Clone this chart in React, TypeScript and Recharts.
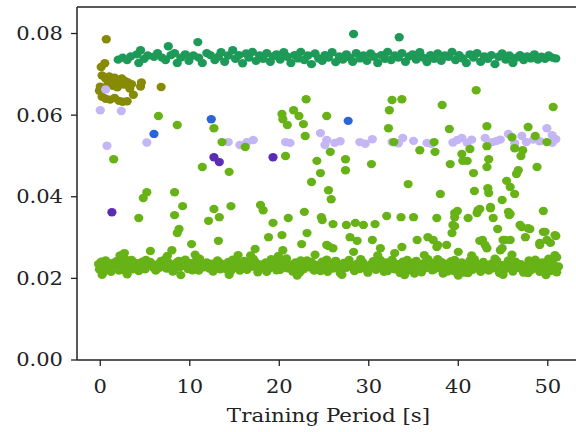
import React from "react";
import { ScatterChart, Scatter, XAxis, YAxis, ReferenceLine, Label } from "recharts";

type P = [number, number];

const xTicks = [0, 10, 20, 30, 40, 50];
const yTicks = [0, 0.02, 0.04, 0.06, 0.08];
const xLabel = "Training Period [s]";

const darkGreenPts: P[] = [
  [2.0,0.0736],[2.5,0.0741],[3.0,0.0735],[3.4,0.0744],[4.1,0.0749],[4.3,0.0728],[4.5,0.0759],[4.9,0.0738],[5.3,0.0746],[6.0,0.0743],[6.4,0.0752],
  [6.9,0.0741],[7.3,0.0735],[7.6,0.0769],[7.9,0.0747],[8.3,0.0752],[8.6,0.0728],[9.0,0.0741],[9.5,0.0749],[9.9,0.0733],[10.4,0.0746],
  [10.9,0.0779],[11.0,0.0741],[11.4,0.0728],[11.9,0.0752],[12.3,0.0747],[12.8,0.0735],[13.2,0.0743],[13.5,0.0754],[13.9,0.0731],[14.3,0.0746],
  [14.8,0.0759],[15.1,0.0738],[15.5,0.0747],[15.9,0.0727],[16.3,0.0751],[16.6,0.0741],[17.0,0.0755],[17.4,0.0733],[17.8,0.0746],[18.2,0.0738],
  [18.6,0.0752],[19.0,0.0731],[19.3,0.0744],[19.7,0.0749],[20.1,0.0736],[20.5,0.0754],[20.9,0.0743],[21.3,0.0728],[21.7,0.0747],[22.1,0.0739],
  [22.4,0.0755],[22.8,0.0735],[23.2,0.0746],[23.6,0.0725],[24.0,0.0751],[24.4,0.0739],[24.8,0.0733],[25.1,0.0747],[25.5,0.0741],[25.9,0.0754],
  [26.3,0.0730],[26.7,0.0744],[27.1,0.0736],[27.5,0.0749],[27.9,0.0741],[28.3,0.0799],[28.2,0.0731],[28.6,0.0752],[29.0,0.0739],[29.4,0.0746],
  [29.8,0.0733],[30.2,0.0751],[30.6,0.0743],[31.0,0.0728],[31.4,0.0747],[31.8,0.0738],[32.1,0.0755],[32.5,0.0735],[32.9,0.0746],[33.3,0.0741],
  [33.4,0.0791],[33.7,0.0752],[34.1,0.0731],[34.5,0.0744],[34.9,0.0749],[35.3,0.0736],[35.7,0.0754],[36.1,0.0741],[36.5,0.0730],[36.9,0.0747],
  [37.3,0.0738],[37.7,0.0751],[38.1,0.0733],[38.5,0.0746],[38.9,0.0743],[39.3,0.0755],[39.7,0.0735],[40.1,0.0747],[40.5,0.0739],[40.9,0.0728],
  [41.3,0.0749],[41.7,0.0741],[42.1,0.0752],[42.5,0.0731],[42.9,0.0744],[43.3,0.0738],[43.7,0.0747],[44.1,0.0725],[44.5,0.0743],[44.9,0.0751],
  [45.3,0.0736],[45.7,0.0746],[46.1,0.0728],[46.5,0.0741],[46.9,0.0747],[47.3,0.0735],[47.7,0.0744],[48.1,0.0739],[48.5,0.0749],[48.9,0.0736],
  [49.3,0.0743],[49.7,0.0738],[50.1,0.0746],[50.5,0.0741],[50.9,0.0739]
];

const olivePts: P[] = [
  [0.67,0.0786],[0.1,0.0718],[0.5,0.0727],[0.2,0.0697],[0.6,0.0690],[1.0,0.0695],[1.3,0.0688],[1.6,0.0692],[2.0,0.0685],[2.4,0.0690],
  [2.8,0.0683],[3.1,0.0680],[3.5,0.0676],[0.0,0.0670],[0.4,0.0665],[0.9,0.0678],[1.4,0.0672],[1.9,0.0668],[2.6,0.0675],[3.3,0.0665],
  [3.7,0.0650],[4.5,0.0670],[4.6,0.0680],[0.2,0.0645],[0.6,0.0640],[1.1,0.0638],[1.6,0.0642],[2.1,0.0635],[2.5,0.0633],[3.0,0.0634],
  [6.8,0.0669],[-0.1,0.0660]
];

const lavenderPts: P[] = [
  [0.0,0.0612],[2.35,0.0610],[0.75,0.0525],[5.2,0.0533],[0.6,0.0663],[14.3,0.0534],[15.6,0.0527],[16.4,0.0534],[17.1,0.0539],[20.7,0.0534],
  [21.2,0.0532],[24.6,0.0556],[25.1,0.0527],[25.3,0.0539],[26.2,0.0532],[26.8,0.0536],[29.0,0.0534],[29.6,0.0530],[30.4,0.0541],[32.6,0.0534],
  [33.3,0.0531],[33.8,0.0544],[35.0,0.0537],[36.5,0.0532],[37.0,0.0530],[39.4,0.0533],[39.9,0.0539],[40.4,0.0544],[41.0,0.0532],[41.5,0.0540],
  [43.0,0.0544],[43.8,0.0534],[44.3,0.0537],[44.7,0.0540],[45.6,0.0554],[46.3,0.0531],[47.1,0.0549],[47.6,0.0534],[48.4,0.0540],[49.1,0.0536],
  [49.9,0.0568],[50.5,0.0551],[50.5,0.0532],[50.9,0.0541]
];

const bluePts: P[] = [[6.0,0.0554],[12.4,0.0590],[27.7,0.0586]];

const purplePts: P[] = [[1.3,0.0362],[12.7,0.0497],[13.3,0.0485],[19.3,0.0497]];

const lightGreenScatter: P[] = [
  [1.5,0.0492],[4.3,0.0348],[2.7,0.0262],[5.6,0.0267],[5.2,0.0411],[4.8,0.0397],[6.5,0.0598],[8.0,0.0269],[8.3,0.0411],[8.3,0.0355],
  [8.6,0.0576],[8.8,0.0321],[8.6,0.0311],[9.2,0.0377],[10.2,0.0284],[11.4,0.0473],[12.1,0.0341],[12.7,0.0568],[12.7,0.0370],[13.2,0.0292],
  [13.3,0.0350],[13.6,0.0534],[14.4,0.0461],[14.6,0.0377],[16.2,0.0522],[17.3,0.0272],[17.9,0.0380],[18.2,0.0367],[18.8,0.0301],[19.3,0.0336],
  [20.3,0.0603],[20.4,0.0590],[20.9,0.0576],[20.7,0.0500],[20.3,0.0306],[20.4,0.0269],[21.0,0.0348],[21.6,0.0612],[22.2,0.0598],[22.7,0.0578],
  [22.9,0.0549],[22.8,0.0363],[22.5,0.0284],[23.0,0.0639],[23.1,0.0311],[23.6,0.0436],[24.2,0.0488],[24.6,0.0458],[24.7,0.0350],[24.8,0.0343],
  [25.3,0.0598],[25.5,0.0416],[25.5,0.0279],[25.7,0.0510],[25.8,0.0394],[26.0,0.0333],[27.4,0.0492],[27.4,0.0465],[27.5,0.0331],[27.9,0.0301],
  [28.5,0.0336],[28.7,0.0292],[29.4,0.0331],[30.3,0.0480],[30.4,0.0294],[30.7,0.0333],[31.3,0.0274],[32.0,0.0353],[32.2,0.0568],[32.3,0.0612],
  [32.6,0.0637],[32.8,0.0534],[33.6,0.0350],[33.7,0.0639],[33.7,0.0277],[34.4,0.0431],[35.0,0.0350],[35.4,0.0294],[35.7,0.0514],[36.6,0.0301],
  [37.3,0.0534],[37.4,0.0510],[37.6,0.0348],[37.6,0.0277],[38.0,0.0407],[38.2,0.0625],[38.7,0.0282],[39.0,0.0566],[39.1,0.0480],[39.3,0.0311],
  [39.4,0.0331],[39.6,0.0360],[39.9,0.0365],[40.0,0.0265],[40.4,0.0505],[40.5,0.0488],[41.0,0.0488],[41.1,0.0348],[41.3,0.0517],[41.7,0.0458],
  [41.8,0.0414],[42.0,0.0661],[42.2,0.0367],[42.4,0.0370],[42.4,0.0292],[43.2,0.0573],[43.2,0.0524],[43.2,0.0473],[43.3,0.0421],[43.4,0.0409],
  [43.4,0.0492],[43.6,0.0372],[43.6,0.0375],[43.9,0.0348],[43.2,0.0274],[44.4,0.0321],[44.7,0.0269],[44.9,0.0392],[45.0,0.0294],[45.4,0.0439],
  [45.6,0.0363],[45.7,0.0355],[45.8,0.0424],[46.0,0.0546],[46.3,0.0519],[46.3,0.0407],[46.5,0.0456],[46.7,0.0465],[47.0,0.0500],[47.1,0.0326],
  [47.2,0.0514],[47.5,0.0301],[47.8,0.0571],[48.0,0.0321],[48.6,0.0549],[48.8,0.0473],[49.1,0.0282],[49.5,0.0365],[49.7,0.0314],[49.9,0.0534],
  [49.9,0.0294],[50.6,0.0620],[50.9,0.0304],[51.0,0.0252],[28.3,0.0265],[32.9,0.0262],[25.3,0.0282],[26.0,0.0274],[37.2,0.0294],[37.7,0.0282],
  [42.7,0.0294],[43.0,0.0282],[45.2,0.0294],[45.8,0.0294],[44.9,0.0274],[49.1,0.0287],[50.3,0.0287],[50.8,0.0257],[46.9,0.0331],[47.8,0.0323],
  [49.5,0.0314],[50.8,0.0306],[39.6,0.0328],[42.1,0.0360],[45.8,0.0358],[39.6,0.0350]
];

const lightGreenBand: P[] = [
  [-0.2,0.0235],[-0.1,0.0222],[0.1,0.0241],[0.3,0.0213],[0.5,0.0230],[0.8,0.0238],[1.0,0.0225],[1.2,0.0216],[1.5,0.0233],[1.8,0.0242],
  [2.0,0.0228],[2.3,0.0236],[2.6,0.0221],[2.9,0.0239],[3.2,0.0231],[3.5,0.0245],[3.8,0.0226],[4.1,0.0237],[4.4,0.0229],[4.7,0.0241],
  [5.0,0.0222],[5.3,0.0234],[5.6,0.0240],[5.9,0.0227],[6.2,0.0219],[6.5,0.0236],[6.8,0.0243],[7.1,0.0230],[7.4,0.0224],[7.7,0.0238],
  [8.0,0.0232],[8.3,0.0221],[8.6,0.0240],[8.9,0.0228],[9.2,0.0235],[9.5,0.0246],[9.8,0.0223],[10.1,0.0237],[10.4,0.0230],[10.7,0.0242],
  [11.0,0.0219],[11.3,0.0233],[11.6,0.0227],[11.9,0.0239],[12.2,0.0224],[12.5,0.0236],[12.8,0.0231],[13.1,0.0244],[13.4,0.0222],[13.7,0.0235],
  [14.0,0.0228],[14.3,0.0240],[14.6,0.0218],[14.9,0.0233],[15.2,0.0226],[15.5,0.0238],[15.8,0.0230],[16.1,0.0243],[16.4,0.0221],[16.7,0.0236],
  [17.0,0.0229],[17.3,0.0241],[17.6,0.0215],[17.9,0.0234],[18.2,0.0226],[18.5,0.0239],[18.8,0.0223],[19.1,0.0247],[19.4,0.0231],[19.7,0.0220],
  [20.0,0.0237],[20.3,0.0228],[20.6,0.0242],[20.9,0.0225],[21.2,0.0234],[21.5,0.0217],[21.8,0.0239],[22.1,0.0230],[22.4,0.0244],[22.7,0.0222],
  [23.0,0.0236],[23.3,0.0227],[23.6,0.0240],[23.9,0.0219],[24.2,0.0233],[24.5,0.0225],[24.8,0.0241],[25.1,0.0229],[25.4,0.0216],[25.7,0.0237],
  [26.0,0.0224],[26.3,0.0243],[26.6,0.0231],[26.9,0.0220],[27.2,0.0238],[27.5,0.0226],[27.8,0.0245],[28.1,0.0232],[28.4,0.0218],[28.7,0.0236],
  [29.0,0.0223],[29.3,0.0240],[29.6,0.0229],[29.9,0.0214],[30.2,0.0234],[30.5,0.0242],[30.8,0.0221],[31.1,0.0237],[31.4,0.0227],[31.7,0.0216],
  [32.0,0.0239],[32.3,0.0230],[32.6,0.0246],[32.9,0.0222],[33.2,0.0235],[33.5,0.0213],[33.8,0.0241],[34.1,0.0228],[34.4,0.0219],[34.7,0.0237],
  [35.0,0.0224],[35.3,0.0243],[35.6,0.0231],[35.9,0.0215],[36.2,0.0238],[36.5,0.0226],[36.8,0.0240],[37.1,0.0220],[37.4,0.0233],[37.7,0.0247],
  [38.0,0.0225],[38.3,0.0212],[38.6,0.0236],[38.9,0.0229],[39.2,0.0242],[39.5,0.0218],[39.8,0.0234],[40.1,0.0223],[40.4,0.0239],[40.7,0.0214],
  [41.0,0.0231],[41.3,0.0244],[41.6,0.0221],[41.9,0.0237],[42.2,0.0227],[42.5,0.0216],[42.8,0.0240],[43.1,0.0230],[43.4,0.0219],[43.7,0.0236],
  [44.0,0.0225],[44.3,0.0243],[44.6,0.0213],[44.9,0.0232],[45.2,0.0222],[45.5,0.0238],[45.8,0.0228],[46.1,0.0217],[46.4,0.0241],[46.7,0.0226],
  [47.0,0.0235],[47.3,0.0214],[47.6,0.0230],[47.9,0.0244],[48.2,0.0221],[48.5,0.0237],[48.8,0.0227],[49.1,0.0216],[49.4,0.0239],[49.7,0.0225],
  [50.0,0.0233],[50.3,0.0218],[50.6,0.0236],[50.9,0.0224],[51.2,0.0229],[51.0,0.0215],
  [0.0,0.0228],[0.6,0.0244],[1.3,0.0237],[2.1,0.0219],[2.8,0.0247],[3.6,0.0222],[4.3,0.0218],[5.1,0.0245],[5.8,0.0233],[6.6,0.0226],
  [7.3,0.0248],[8.1,0.0217],[8.8,0.0243],[9.6,0.0229],[10.3,0.0220],[11.1,0.0248],[11.8,0.0234],[12.6,0.0217],[13.3,0.0239],[14.1,0.0222],
  [14.8,0.0246],[15.6,0.0219],[16.3,0.0232],[17.1,0.0248],[17.8,0.0224],[18.6,0.0216],[19.3,0.0240],[20.1,0.0221],[20.8,0.0249],[21.6,0.0233],
  [22.3,0.0215],[23.1,0.0244],[23.8,0.0228],[24.6,0.0218],[25.3,0.0246],[26.1,0.0235],[26.8,0.0213],[27.6,0.0239],[28.3,0.0226],[29.1,0.0247],
  [29.8,0.0221],[30.6,0.0229],[31.3,0.0245],[32.1,0.0218],[32.8,0.0238],[33.6,0.0226],[34.3,0.0245],[35.1,0.0212],[35.8,0.0233],[36.6,0.0247],
  [37.3,0.0222],[38.1,0.0240],[38.8,0.0217],[39.6,0.0245],[40.3,0.0229],[41.1,0.0213],[41.8,0.0247],[42.6,0.0233],[43.3,0.0224],[44.1,0.0248],
  [44.8,0.0219],[45.6,0.0244],[46.3,0.0231],[47.1,0.0222],[47.8,0.0213],[48.6,0.0246],[49.3,0.0230],[50.1,0.0248],[50.8,0.0220],
  [2.2,0.0256],[7.5,0.0255],[10.6,0.0258],[15.4,0.0257],[16.8,0.0256],[19.9,0.0255],[24.0,0.0258],[31.0,0.0256],[36.2,0.0257],[41.5,0.0256],[46.0,0.0258],
  [0.2,0.0209],[3.0,0.0210],[9.0,0.0208],[14.4,0.0209],[22.0,0.0207],[27.0,0.0209],[34.0,0.0208],[40.0,0.0207],[45.0,0.0209],[49.8,0.0208]
];

const toObj = (pts: P[]) => pts.map(([x, y]) => ({ x, y }));

const FONT = "DejaVu Serif";
const STRETCH = 1.17;
const AXIS_COLOR = "#222";

const dot = (color: string) => (props: any) => (
  <ellipse cx={props.cx} cy={props.cy} rx={4.6} ry={4.2} fill={color} />
);

const YTick = (props: any) => {
  const { x, y, payload } = props;
  return (
    <text
      transform={`translate(${x},${y}) scale(${STRETCH},1)`}
      textAnchor="end"
      dy="0.36em"
      fontSize={18}
      fontFamily={FONT}
      fill={AXIS_COLOR}
    >
      {Number(payload.value).toFixed(2)}
    </text>
  );
};

const XTick = (props: any) => {
  const { x, y, payload } = props;
  return (
    <text
      transform={`translate(${x},${y + 26.5}) scale(${STRETCH},1)`}
      textAnchor="middle"
      fontSize={18}
      fontFamily={FONT}
      fill={AXIS_COLOR}
    >
      {payload.value}
    </text>
  );
};

const XLabelContent = (props: any) => {
  const vb = props.viewBox || {};
  const cx = vb.x + vb.width / 2;
  const by = vb.y + 62;
  return (
    <text
      transform={`translate(${cx},${by}) scale(${STRETCH},1)`}
      textAnchor="middle"
      fontSize={18.3}
      fontFamily={FONT}
      fill={AXIS_COLOR}
    >
      {xLabel}
    </text>
  );
};

export default function App() {
  return (
    <div style={{ position: "absolute", left: 0, top: 0, width: 576, height: 432, overflow: "hidden", background: "#fff" }}>
      <ScatterChart width={600} height={432} margin={{ top: 7, right: 20, bottom: 0, left: 0 }}>
        <XAxis
          type="number"
          dataKey="x"
          domain={[-2.6, 53.6]}
          ticks={xTicks}
          height={72}
          tick={<XTick />}
          tickSize={6}
          tickMargin={0}
          axisLine={{ stroke: AXIS_COLOR, strokeWidth: 1.5 }}
          tickLine={{ stroke: AXIS_COLOR, strokeWidth: 1.3 }}
          allowDataOverflow
        >
          <Label content={<XLabelContent />} position="bottom" />
        </XAxis>
        <YAxis
          type="number"
          dataKey="y"
          domain={[0, 0.0865]}
          ticks={yTicks}
          width={77}
          tick={<YTick />}
          tickSize={6}
          tickMargin={8}
          axisLine={{ stroke: AXIS_COLOR, strokeWidth: 1.5 }}
          tickLine={{ stroke: AXIS_COLOR, strokeWidth: 1.3 }}
          allowDataOverflow
        />
        <ReferenceLine y={0.0865} stroke={AXIS_COLOR} strokeWidth={1.5} />
        <Scatter data={toObj(darkGreenPts)} shape={dot("#1e9a58")} isAnimationActive={false} />
        <Scatter data={toObj(olivePts)} shape={dot("#878a06")} isAnimationActive={false} />
        <Scatter data={toObj(lavenderPts)} shape={dot("#c4b6f4")} isAnimationActive={false} />
        <Scatter data={toObj(bluePts)} shape={dot("#2b63d8")} isAnimationActive={false} />
        <Scatter data={toObj(purplePts)} shape={dot("#5b2cb6")} isAnimationActive={false} />
        <Scatter data={toObj(lightGreenScatter)} shape={dot("#67b317")} isAnimationActive={false} />
        <Scatter data={toObj(lightGreenBand)} shape={dot("#67b317")} isAnimationActive={false} />
      </ScatterChart>
    </div>
  );
}
